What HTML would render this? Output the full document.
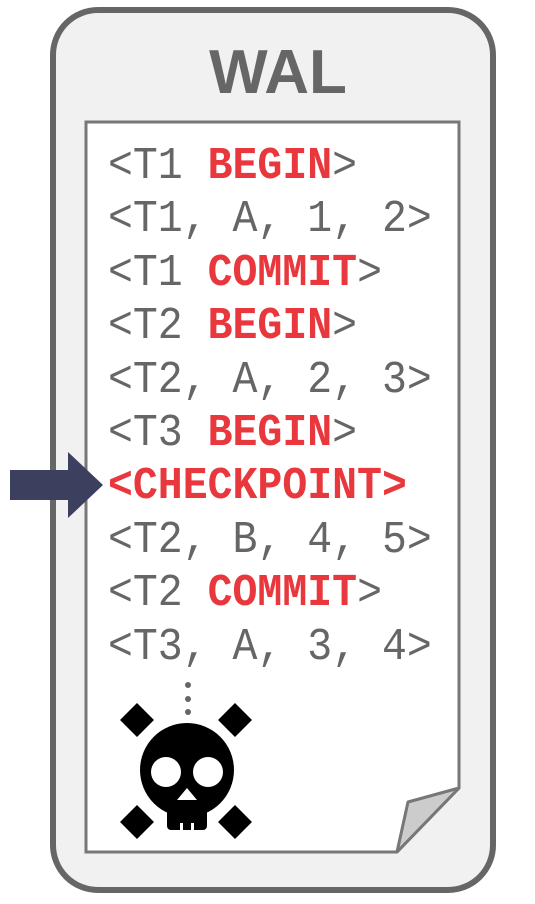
<!DOCTYPE html>
<html><head><style>
body{margin:0;width:535px;height:904px;background:#fff;position:relative;overflow:hidden}
.t{position:absolute;left:108px;font-family:"Liberation Mono","DejaVu Sans Mono",monospace;font-size:41.5px;color:#666;white-space:pre;line-height:1;transform:scaleY(1.1);transform-origin:0 100%}
.r{color:#e8383d;font-weight:bold}
</style></head><body>
<svg width="535" height="904" style="position:absolute;left:0;top:0">
<rect x="53" y="10" width="440" height="880" rx="45" fill="#f1f1f1" stroke="#666" stroke-width="6"/>
<text x="278" y="93" text-anchor="middle" font-family="Liberation Sans,sans-serif" font-weight="bold" font-size="62" fill="#666">WAL</text>
<path d="M86 122 H459 V788 L397 852 H86 Z" fill="#fff" stroke="#777" stroke-width="3"/>
<path d="M459 788 L408 802 L397 852 Z" fill="#ccc" stroke="#777" stroke-width="3" stroke-linejoin="round"/>
<path d="M10 470 H68 V452 L103 485 L68 518 V500 H10 Z" fill="#3d3f5e"/>
<circle cx="188" cy="685" r="3" fill="#666"/><circle cx="188" cy="699" r="3" fill="#666"/><circle cx="188" cy="712" r="3" fill="#666"/>
<g fill="#000">
<rect x="125" y="708" width="24" height="24" transform="rotate(45 137 720)"/>
<rect x="223" y="708" width="24" height="24" transform="rotate(45 235 720)"/>
<rect x="125" y="810" width="24" height="24" transform="rotate(45 137 822)"/>
<rect x="223" y="810" width="24" height="24" transform="rotate(45 235 822)"/>
<circle cx="187" cy="770" r="47"/>
<rect x="167" y="795" width="40" height="35" rx="4"/>
</g>
<g fill="#fff">
<circle cx="166" cy="772" r="15"/><circle cx="208" cy="772" r="15"/>
<path d="M187 788 L177 800 H197 Z"/>
<rect x="180" y="823" width="3" height="8"/><rect x="191" y="823" width="3" height="8"/>
</g>
</svg>
<div class="t" style="top:148px">&lt;T1 <span class="r">BEGIN</span>&gt;</div>
<div class="t" style="top:201px">&lt;T1, A, 1, 2&gt;</div>
<div class="t" style="top:255px">&lt;T1 <span class="r">COMMIT</span>&gt;</div>
<div class="t" style="top:308px">&lt;T2 <span class="r">BEGIN</span>&gt;</div>
<div class="t" style="top:362px">&lt;T2, A, 2, 3&gt;</div>
<div class="t" style="top:415px">&lt;T3 <span class="r">BEGIN</span>&gt;</div>
<div class="t r" style="top:468px">&lt;CHECKPOINT&gt;</div>
<div class="t" style="top:522px">&lt;T2, B, 4, 5&gt;</div>
<div class="t" style="top:575px">&lt;T2 <span class="r">COMMIT</span>&gt;</div>
<div class="t" style="top:629px">&lt;T3, A, 3, 4&gt;</div>
</body></html>
